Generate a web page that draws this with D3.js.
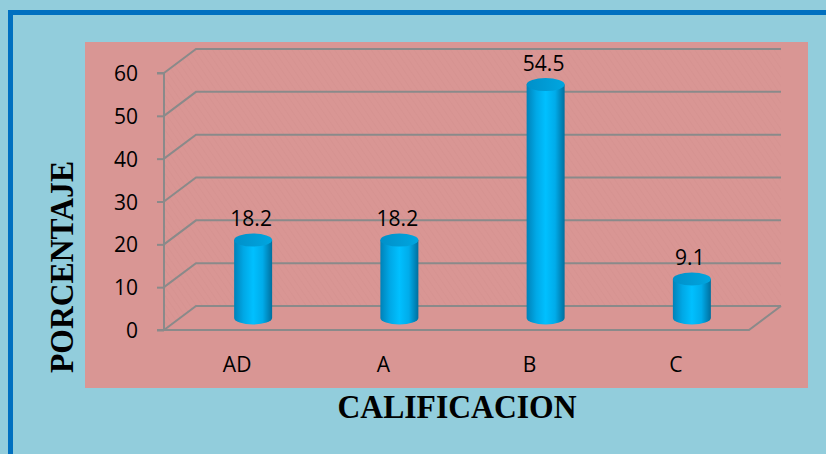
<!DOCTYPE html>
<html><head><meta charset="utf-8">
<script src="https://cdn.jsdelivr.net/npm/d3@7"></script>
<style>html,body{margin:0;padding:0;background:#92CDDC;overflow:hidden}</style>
</head><body>
<svg id="c" width="826" height="454"></svg>
<script>
const categories = ["AD", "A", "B", "C"];
const values = [18.2, 18.2, 54.5, 9.1];
const yTicks = [0, 10, 20, 30, 40, 50, 60];
const yTitle = "PORCENTAJE";
const xTitle = "CALIFICACION";

(function () {
const svg = d3.select("#c");
const W = 826, H = 454;
const FONT = "'Open Sans', sans-serif";
const SERIF = "'Liberation Serif', 'Times New Roman', serif";
svg.append("rect").attr("width", W).attr("height", H).attr("fill", "#92CDDC");
svg.append("rect").attr("x", 10.5).attr("y", 12.5).attr("width", W + 20).attr("height", H + 20)
  .attr("fill", "none").attr("stroke", "#0070C0").attr("stroke-width", 5);
svg.append("rect").attr("x", 85).attr("y", 42).attr("width", 723).attr("height", 346).attr("fill", "#D99694");

const x = d3.scaleBand().domain(categories).range([164, 749]);
const y = d3.scaleLinear().domain([0, 60]).range([330, 73]);
const DX = 32, DY = -24;
const grid = "#8a8a8a";

const defs = svg.append("defs");
const pat = defs.append("pattern").attr("id", "hatch").attr("patternUnits", "userSpaceOnUse")
  .attr("width", 5).attr("height", 5).attr("patternTransform", "rotate(-35)");
pat.append("rect").attr("width", 5).attr("height", 5).attr("fill", "#D99694");
pat.append("line").attr("x1", 0).attr("y1", 0).attr("x2", 0).attr("y2", 5).attr("stroke", "#d69290").attr("stroke-width", 1.5);

const x0 = x.range()[0], x1 = x.range()[1];
svg.append("path").attr("fill", "url(#hatch)")
  .attr("d", `M${x0},${y(0)}L${x0},${y(60)}L${x0+DX},${y(60)+DY}L${x1+DX},${y(60)+DY}L${x1+DX},${y(0)+DY}L${x0+DX},${y(0)+DY}Z`);

const g = svg.append("g");
yTicks.forEach(t => {
  g.append("polyline").attr("fill", "none").attr("stroke", grid).attr("stroke-width", 2)
    .attr("points", `${x0},${y(t)} ${x0+DX},${y(t)+DY} ${x1+DX},${y(t)+DY}`);
});
g.append("polyline").attr("fill", "none").attr("stroke", grid).attr("stroke-width", 2)
  .attr("points", `${x0},${y(0)} ${x1},${y(0)} ${x1+DX},${y(0)+DY}`);

const ax = svg.append("g").attr("transform", `translate(${x0},0)`)
  .call(d3.axisLeft(y).tickValues(yTicks).tickSize(7).tickPadding(19).tickFormat(d3.format("d")));
ax.selectAll("path,line").attr("stroke", grid).attr("stroke-width", 2);
ax.select(".domain").attr("d", `M-7,${y(60)}H0V${y(0)}H-7`);
ax.selectAll("text").attr("font-family", FONT).attr("font-size", 21).attr("fill", "#000").attr("dy", "0.36em");

svg.append("g").selectAll("text").data(categories).join("text")
  .attr("x", d => x(d) + x.bandwidth() / 2).attr("y", 372)
  .attr("text-anchor", "middle").attr("font-family", FONT).attr("font-size", 21).attr("fill", "#000")
  .text(d => d);

const side = defs.append("linearGradient").attr("id", "cyl").attr("x1", 0).attr("x2", 1).attr("y1", 0).attr("y2", 0);
[[0, "#0082b8"], [0.25, "#00a8e6"], [0.5, "#00c0ff"], [0.75, "#00acea"], [1, "#006f9e"]]
  .forEach(([o, c]) => side.append("stop").attr("offset", o).attr("stop-color", c));
const topG = defs.append("linearGradient").attr("id", "cyltop").attr("x1", 0).attr("x2", 1).attr("y1", 0).attr("y2", 0);
[[0, "#0090c9"], [1, "#00a6e0"]].forEach(([o, c]) => topG.append("stop").attr("offset", o).attr("stop-color", c));

const bw = 38, ry = 6.5;
const data = categories.map((c, i) => ({ c, v: values[i] }));
const bars = svg.append("g").selectAll("g").data(data).join("g")
  .attr("transform", d => `translate(${x(d.c) + x.bandwidth() / 2 + DX / 2},${DY / 2})`);
bars.append("path").attr("fill", "url(#cyl)")
  .attr("d", d => {
    const t = y(d.v), b = y(0), r = bw / 2;
    return `M${-r},${t}L${-r},${b}A${r},${ry} 0 0 0 ${r},${b}L${r},${t}Z`;
  });
bars.append("ellipse").attr("cx", 0).attr("cy", d => y(d.v)).attr("rx", bw / 2).attr("ry", ry)
  .attr("fill", "url(#cyltop)");
bars.append("text").attr("x", -2).attr("y", d => y(d.v) - 14)
  .attr("text-anchor", "middle").attr("font-family", FONT).attr("font-size", 21).attr("fill", "#000")
  .text(d => d.v.toFixed(1));

svg.append("text").attr("transform", "translate(73,267) rotate(-90)").attr("text-anchor", "middle")
  .attr("font-family", SERIF).attr("font-weight", "bold").attr("font-size", 34)
  .attr("textLength", 212).attr("lengthAdjust", "spacingAndGlyphs")
  .text(yTitle);
svg.append("text").attr("x", 457).attr("y", 418).attr("text-anchor", "middle")
  .attr("font-family", SERIF).attr("font-weight", "bold").attr("font-size", 33)
  .attr("textLength", 239).attr("lengthAdjust", "spacingAndGlyphs")
  .text(xTitle);
})();
</script>
</body></html>
